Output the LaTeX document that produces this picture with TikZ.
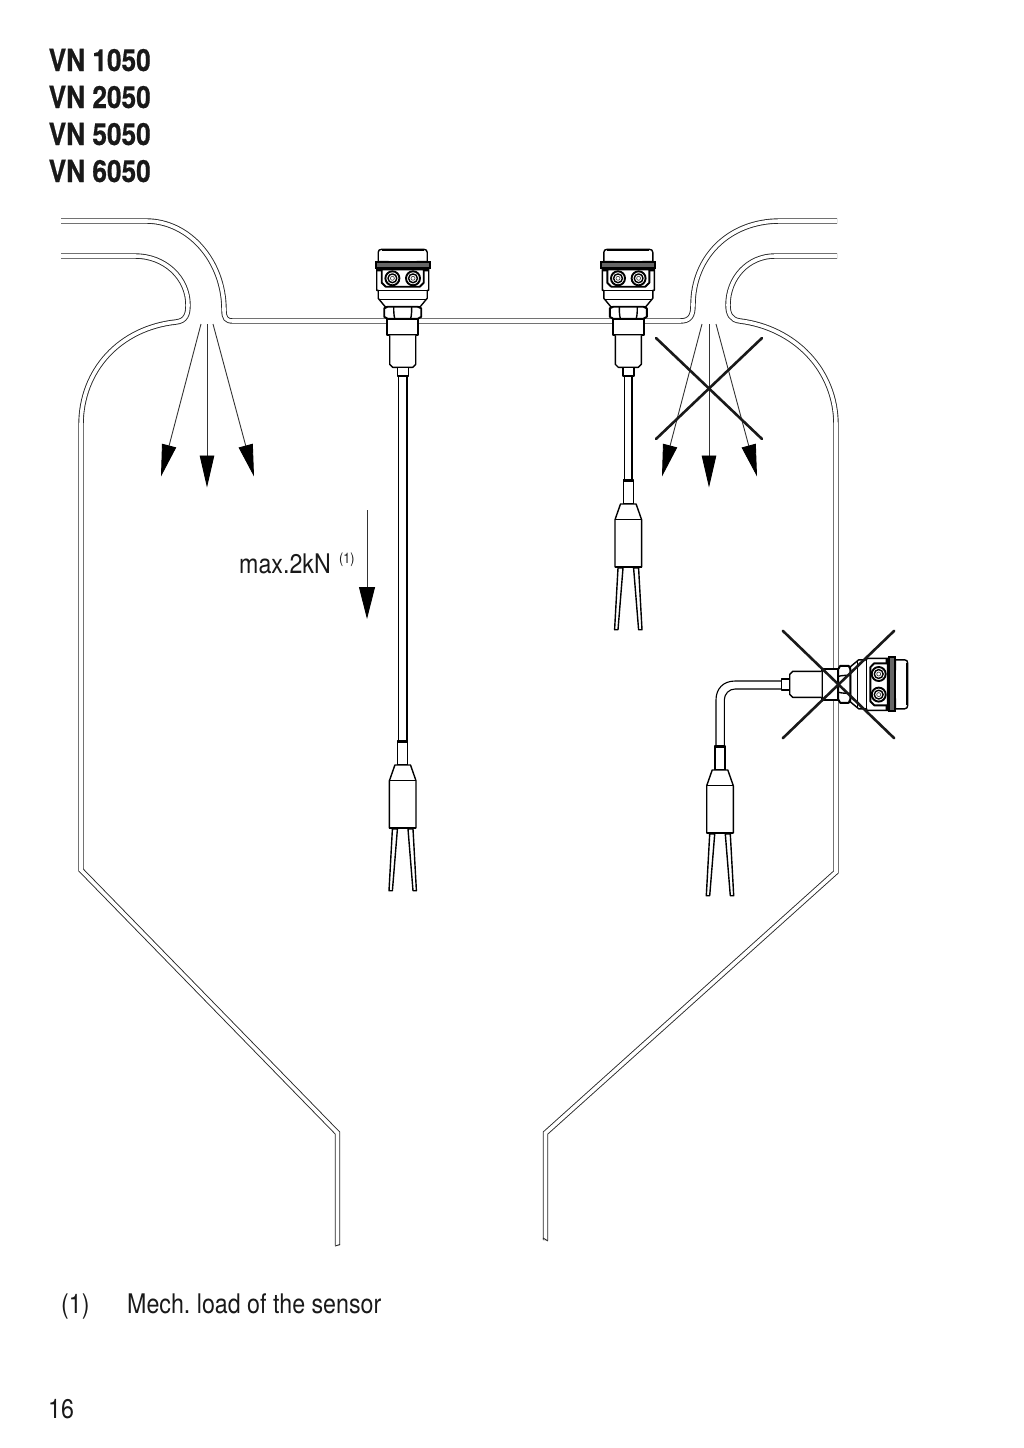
\documentclass[tikz,border=0pt]{standalone}
\usepackage{fontspec}
\setmainfont{TeX Gyre Heros}[FakeStretch=0.86,BoldFeatures={FakeBold=0.6}]
\usetikzlibrary{arrows.meta}
\frenchspacing
\tikzset{
  wall/.style={draw=black!85,double=white,double distance=3.6pt,line width=0.9pt},
  ray/.style={draw=black!80,line width=0.9pt,-{Triangle[length=32pt,width=14.5pt,color=black,fill=black]}},
  cross/.style={draw=black!90,line width=2.6pt,line cap=round},
  sline/.style={draw=black,line width=1.4pt,fill=white,line join=round},
  sbold/.style={sline,line width=1.9pt},
  thickl/.style={draw=black,line width=2.2pt},
  label/.style={anchor=base west,inner sep=0pt,text=black!90},
  title/.style={label,font=\fontsize{30.5}{30.5}\selectfont\bfseries},
  body/.style={label,font=\fontsize{27}{27}\selectfont}
}
% head: origin at centre of the cap's top edge, y runs down
\newcommand{\sensorhead}{%
  % cap
  \path[sline] (-24.5,13) -- (-24.5,3) .. controls (-24.5,1) and (-23,0) .. (-21,0) -- (21,0) .. controls (23,0) and (24.5,1) .. (24.5,3) -- (24.5,13) -- cycle;
  \draw[draw=black,line width=2pt] (-21,0.6) -- (21,0.6);
  \fill[black] (-24.5,11.5) rectangle (-14,13.5) (14,11.5) rectangle (24.5,13.5);
  % body
  \path[sline] (-26,19) -- (-26,41) -- (-24.5,41) -- (-24.5,49) -- (-17.5,57.4) -- (17.5,57.4) -- (24.5,49) -- (24.5,41) -- (26,41) -- (26,19) -- cycle;
  \draw[sline] (-25,41) -- (25,41) (-23.5,50) -- (23.5,50);
  % flange
  \path[draw=black,line width=1.8pt,fill=black!60] (-27,13) rectangle (27,19);
  \fill[black] (-25.5,19) rectangle (-21,22) (21,19) rectangle (25.5,22);
  % connector panel
  \path[sbold] (-21,20) -- (21,20) -- (21,33.5) -- (17,37.4) -- (-17,37.4) -- (-21,33.5) -- cycle;
  \foreach \sx in {-10.3,10.3}{
    \path[sbold] (\sx,29) circle (7);
    \path[sline] (\sx,29) circle (4.4);
    \path[draw=black!70,line width=0.7pt,fill=white] (\sx,29) circle (2);
  }
  % nut
  \path[sbold] (-18.5,59) -- (-15,57.4) -- (15,57.4) -- (18.5,59) -- (18.5,67.5) -- (15,69.5) -- (-15,69.5) -- (-18.5,67.5) -- cycle;
  \draw[sline] (-9,57.4) .. controls (-9,60) and (-9,66) .. (-8,69) (9,57.4) .. controls (9,60) and (9,66) .. (8,69);
  % thread
  \path[sbold] (-15.5,69.5) rectangle (15.5,85.5);
  \draw[thickl] (-15.5,85.5) -- (15.5,85.5);
  % lower body
  \path[sline] (-13,86) -- (-13,115) -- (-10,118) -- (10,118) -- (13,115) -- (13,86);
  \draw[sline] (-5.5,118) rectangle (5.5,126.5);
}
% probe end: origin at the neck's top centre
\newcommand{\sensorfork}{%
  \path[sline] (-5,0) rectangle (5,24);
  \draw[thickl] (-5,0.4) -- (5,0.4);
  \path[sline] (-7.8,24) -- (7.8,24) -- (13.3,39.7) -- (13.3,87) -- (-13.3,87) -- (-13.3,39.7) -- cycle;
  \draw[sline] (-13.3,39.7) -- (13.3,39.7);
  \draw[thickl] (-13.3,86.6) -- (13.3,86.6);
  \path[sline] (-10.3,88) -- (-5.3,88) -- (-10.3,149.7) -- (-13.7,149.7) -- cycle;
  \path[sline] (10.3,88) -- (5.3,88) -- (10.3,149.7) -- (13.7,149.7) -- cycle;
}
\begin{document}
\begin{tikzpicture}[x=1pt,y=-1pt]
\useasboundingbox (0,0) rectangle (1024,1448);
% titles
\node[title] (t1) at (48.5,71) {VN 1050};
\node[title] (t2) at (48.5,108) {VN 2050};
\node[title] (t3) at (48.5,145) {VN 5050};
\node[title] (t4) at (48.5,182) {VN 6050};
% silo walls
\path[wall] (61,221) -- (146,221) .. controls (189,221) and (224,261) .. (224,310) .. controls (224,318) and (226,321) .. (233,321) -- (680,321) .. controls (690,321) and (693,316) .. (693,305) .. controls (693,258) and (728,221) .. (780,221) -- (837,221);
\path[wall] (61,256) -- (135,256) .. controls (165,256) and (188,278) .. (188,305) .. controls (188,314) and (186,321) .. (176,322) .. controls (120,328) and (81,370) .. (81,425) -- (81,870) -- (337.5,1133) -- (337.5,1245);
\path[wall] (837,256) -- (775,256) .. controls (748,256) and (728,278) .. (728,305) .. controls (728,314) and (731,320) .. (740,321) .. controls (795,328) and (836,370) .. (836,425) -- (836,872) -- (545.5,1133) -- (545.5,1240);
\draw[black!85,line width=0.9pt] (335,1246) -- (340,1244.5) (543,1238) -- (548,1241);
% left rays
\draw[ray] (201,324) -- (161,476.5);
\draw[ray] (207,324) -- (207,487.5);
\draw[ray] (213,324) -- (254,476.5);
% right rays
\draw[ray] (702,324) -- (662,476.5);
\draw[ray] (709,324) -- (709,487.5);
\draw[ray] (716,324) -- (757,476.5);
\draw[cross] (656,338) -- (762,439);
\draw[cross] (762,338) -- (656,439);
% load arrow
\draw[draw=black!80,line width=0.9pt,-{Triangle[length=32pt,width=16pt,color=black,fill=black]}] (367,510) -- (367,619);
\node[body] (load) at (239,573) {max.2kN};
\node[label,font=\fontsize{14.5}{14.5}\selectfont] (loadnote) at (339,563) {(1)};
% sensor 1
\path[sline] (398.5,370) rectangle (407,745);
\begin{scope}[shift={(402.7,249.3)}]\sensorhead\end{scope}
\begin{scope}[shift={(402.7,741)}]\sensorfork\end{scope}
% sensor 2
\path[sline] (624.6,370) rectangle (632,484);
\begin{scope}[shift={(628.3,249.3)}]\sensorhead\end{scope}
\begin{scope}[shift={(628.3,480)}]\sensorfork\end{scope}
% sensor 3
\path[sline,line width=1.1pt] (783,681) -- (735,681) .. controls (723,681) and (716,689) .. (716,700) -- (716,750) -- (724.3,750) -- (724.3,700) .. controls (724.3,694) and (729,689) .. (735,689) -- (783,689);
\begin{scope}[shift={(907.7,684.3)},rotate=-90]\sensorhead\end{scope}
\begin{scope}[shift={(720,746)}]\sensorfork\end{scope}
\draw[cross] (782.7,630.7) -- (894.3,738.3);
\draw[cross] (894.3,630.7) -- (782.7,738.3);
% footer
\node[body] (fnum) at (61,1313) {(1)};
\node[body] (ftext) at (127,1313) {Mech. load of the sensor};
\node[body] (page) at (48,1418) {16};
\end{tikzpicture}
\end{document}
